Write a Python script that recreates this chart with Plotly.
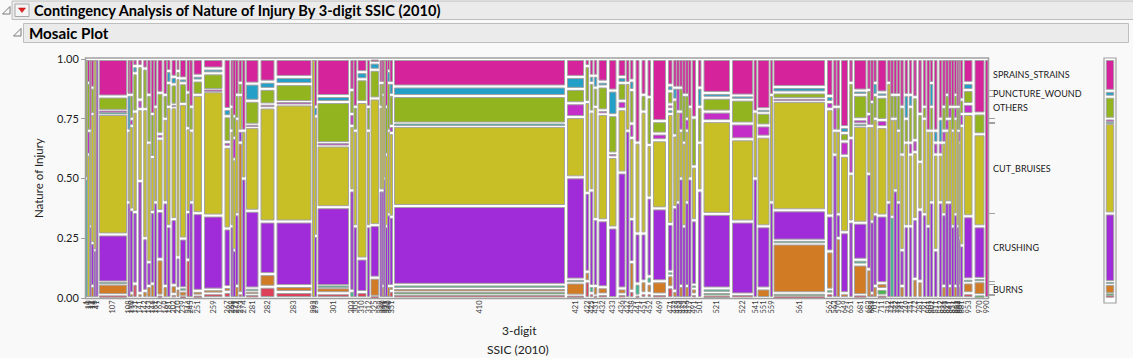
import plotly.graph_objects as go

# ---------------- data ----------------
ssic_codes = ["1", "10", "11", "14", "16", "41", "107", "108", "110", "131",
              "141", "142", "143", "146", "161", "162", "169", "181", "202", "210",
              "239", "244", "245", "251", "259", "267", "268", "271", "272", "273",
              "274", "281", "282", "283", "292", "293", "301", "303", "305", "310",
              "312", "325", "329", "330", "331", "332", "340", "351", "410", "421",
              "422", "425", "431", "432", "433", "436", "437", "438", "441", "451",
              "452", "469", "471", "472", "473", "474", "475", "476", "477", "491",
              "501", "521", "522", "541", "551", "559", "561", "562", "563", "570",
              "649", "651", "681", "682", "683", "701", "711", "712", "721", "722",
              "731", "741", "749", "751", "772", "781", "791", "801", "802", "811",
              "812", "821", "829", "841", "851", "861", "862", "869", "881", "953", "970", "990"]

cases = [15, 20, 15, 30, 20, 20, 300, 20, 25, 50,
         50, 50, 30, 40, 20, 70, 35, 35, 65, 20,
         80, 25, 30, 105, 205, 75, 20, 25, 25, 45,
         25, 145, 160, 370, 20, 20, 335, 40, 25, 110,
         20, 105, 20, 20, 15, 20, 20, 35, 1730, 190,
         45, 40, 40, 105, 95, 90, 25, 55, 60, 60,
         55, 150, 65, 30, 30, 30, 30, 30, 25, 60,
         55, 285, 230, 25, 140, 20, 535, 75, 30, 35,
         90, 40, 145, 30, 30, 30, 110, 30, 30, 35,
         30, 40, 45, 40, 50, 50, 40, 35, 30, 55,
         40, 30, 30, 30, 25, 30, 20, 10, 30, 105, 120, 25]

# percentage of each nature of injury inside each SSIC column
amputation = [0, 0, 0, 0, 0, 0, 1.2, 0, 0, 6,
              0, 0, 0, 0, 0, 1, 0, 0, 1.5, 0,
              0.5, 16, 0, 1, 2, 2.5, 0, 0, 0, 2,
              0, 1.5, 4.7, 2.5, 0, 0, 2, 0, 0, 2.5,
              0, 0.5, 0, 0, 0, 0, 0, 3, 1.5, 1,
              7, 2, 1, 1.5, 0, 1.5, 0, 3, 1, 2,
              2, 1.5, 4.5, 0, 0, 0, 0, 0, 0, 1.5,
              0, 1, 1.5, 0, 0, 0, 0.5, 2, 0, 0,
              0, 0, 1.2, 0, 2, 0, 1, 0, 0, 0,
              0, 0, 0, 0, 0, 0, 0, 0, 0, 0,
              0, 0, 0, 0, 0, 0, 0, 0, 0, 2, 0, 0]
asphyxia = [0, 0, 0, 0, 0, 0, 0, 0, 0, 0,
            0, 0, 0, 0, 0, 0, 0, 0, 0, 0,
            0, 0, 0, 0, 0, 0, 0, 0, 0, 0,
            0, 0, 0, 0, 0, 0, 0, 0, 0, 0,
            0, 0, 0, 0, 0, 0, 0, 0, 1, 0,
            0, 0, 0, 0, 0, 0, 0, 0, 0, 0,
            0, 0, 0, 0, 0, 0, 0, 0, 0, 0,
            0, 1.2, 0, 0, 0, 0, 1.5, 1.5, 0, 0,
            0, 0, 0, 0, 0, 0, 2.8, 0, 0, 0,
            0, 0, 0, 0, 0, 0, 0, 0, 0, 0,
            0, 0, 0, 0, 0, 0, 0, 0, 0, 0, 1.2, 0]
burns = [0, 0, 0, 5, 0, 0, 4.8, 0, 2, 0,
         2, 3, 5, 6, 0, 15, 5, 0, 3.5, 4,
         2.5, 0, 0, 2, 1.5, 2, 0, 0, 5, 63,
         0, 1.2, 5.3, 2.5, 0, 0, 2.5, 0, 0, 0,
         0, 8, 0, 5, 0, 0, 5, 2, 1.5, 5.5,
         4, 0, 4, 3, 0, 2.5, 0, 12, 0, 5,
         4, 5.5, 5, 3, 0, 5, 0, 5, 0, 2.5,
         0, 0, 0, 0, 4, 0, 20.8, 16, 0, 25,
         2, 0, 12.8, 12, 0, 5, 2.4, 0, 0, 0,
         0, 5, 0, 0, 8, 7, 0, 0, 0, 0,
         0, 5, 0, 5, 0, 5, 0, 5, 0, 4.5, 5.8, 0]
concussion = [50, 0, 0, 0, 0, 0, 0.5, 0, 0, 0,
              0, 0, 0, 0, 0, 0, 0, 0, 0, 0,
              1, 0, 0, 0, 0, 0, 0, 0, 0, 0,
              0, 1.3, 0, 0, 0, 0, 0.5, 3, 0, 0,
              0, 0, 0, 0, 0, 0, 0, 0, 1.5, 1.2,
              0, 3, 0, 0, 0, 0, 0, 0, 5, 0,
              3, 0, 1.5, 0, 0, 0, 0, 0, 0, 1.5,
              0, 1.8, 0, 0, 0, 0, 1.2, 0, 0, 0,
              0, 0, 2, 0, 0, 0, 0, 0, 34, 0,
              0, 0, 0, 0, 0, 0, 0, 0, 0, 0,
              0, 0, 0, 0, 0, 0, 0, 0, 0, 1.3, 1, 0]
crushing = [0, 0, 30, 18, 20, 100, 20.1, 40, 35, 30,
            47, 22, 10, 30, 40, 20, 35, 30, 26, 13,
            20.5, 20, 40, 32.5, 31, 24, 30, 20, 30, 5,
            50, 32.5, 22, 27, 0, 26, 33, 42, 30, 14,
            30, 22, 45, 40, 50, 30, 30, 29, 33, 42.8,
            33, 40, 28, 28, 29.5, 48.5, 70, 18, 21, 20,
            33, 30.5, 20, 35, 40, 45, 30, 35, 50, 27,
            45, 31.2, 30.5, 50, 26, 40, 12.7, 15, 60, 10,
            25.5, 32, 15.5, 40, 30, 30, 28.3, 40, 0, 45,
            40, 15, 30, 30, 25, 30, 35, 30, 40, 20,
            40, 30, 40, 35, 30, 30, 30, 20, 22, 26.4, 22, 0]
cut_bruises = [0, 60, 40, 54, 80, 0, 50.4, 30, 35, 42,
               30, 54, 50, 23, 40, 30, 35, 50, 44, 75,
               55.5, 35, 30, 49.5, 52, 33.5, 40, 38, 40, 15,
               20, 35, 47.7, 49, 100, 50, 25.8, 27, 40, 65.5,
               40, 53, 35, 40, 50, 30, 35, 35, 33.5, 25.2,
               38, 33, 47, 44.5, 29.5, 26.5, 20, 34, 38, 51,
               22, 28.5, 46, 30, 38, 20, 35, 30, 30, 22.5,
               20, 38.8, 34.4, 28, 37.5, 45, 45.7, 44.5, 10, 35,
               32, 20, 40.5, 20, 40, 40, 37, 50, 41, 30,
               30, 40, 35, 30, 28, 20, 40, 40, 30, 40,
               20, 30, 30, 35, 40, 40, 40, 40, 50, 42.8, 38.5, 0]
dislocation = [0, 0, 0, 0, 0, 0, 0.6, 0, 0, 0,
               0, 0, 0, 0, 0, 0, 0, 0, 0, 0,
               0, 0, 0, 0, 0, 0, 0, 0, 0, 0,
               0, 0, 0, 0, 0, 0, 0, 0, 0, 0,
               0, 0, 0, 0, 0, 0, 0, 0, 1, 0,
               0, 0, 0, 0, 0, 0, 0, 0, 0, 0,
               0, 0, 2, 0, 0, 0, 0, 0, 0, 0,
               0, 0, 0, 0, 0, 0, 0, 0, 0, 0,
               0, 0, 0.7, 0, 0, 0, 0, 0, 0, 0,
               0, 0, 0, 0, 0, 0, 0, 0, 0, 0,
               0, 0, 0, 0, 0, 0, 0, 0, 0, 0, 0, 0]
fracture = [0, 10, 0, 0, 0, 0, 0.7, 0, 3, 0,
            4, 0, 0, 0, 0, 2, 0, 0, 1, 0,
            0, 0, 0, 0, 0.5, 2, 0, 9, 0, 0,
            0, 1, 1.3, 1, 0, 0, 1, 5, 0, 0,
            0, 0, 0, 0, 0, 0, 0, 3, 0, 5.8,
            0, 0, 0, 1.5, 1.5, 3.5, 0, 6, 0, 0,
            0, 2.8, 2, 0, 10, 8, 0, 5, 0, 0,
            0, 4, 6.6, 0, 4.7, 0, 0.9, 3, 10, 0,
            6, 15, 2.1, 5, 0, 0, 3, 0, 0, 0,
            0, 0, 0, 5, 5, 0, 0, 0, 0, 5,
            5, 5, 5, 5, 0, 5, 0, 5, 5, 4.2, 0, 0]
others = [50, 20, 0, 11, 0, 0, 6, 0, 10, 16,
          14, 17, 20, 18, 0, 17, 10, 10, 8, 3,
          8.5, 15, 10, 6, 7, 10.5, 10, 9, 10, 5,
          0, 10, 6.5, 7.5, 0, 0, 17.2, 10, 10, 9.5,
          10, 12, 10, 5, 0, 20, 20, 13, 11.5, 6,
          15, 12, 8, 10, 16, 7.5, 0, 14, 0, 7,
          20, 5.2, 5.5, 15, 0, 10, 20, 10, 0, 20.5,
          15, 5.8, 10, 0, 5.3, 0, 2.7, 0, 0, 10,
          3.5, 23, 10.2, 10, 10, 10, 9.7, 0, 10, 10,
          15, 20, 10, 15, 18, 20, 5, 0, 10, 0,
          0, 10, 10, 0, 10, 5, 10, 10, 6, 5.8, 8.7, 0]
puncture_wound = [0, 0, 0, 0, 0, 0, 0, 15, 0, 3,
                  0, 0, 0, 0, 0, 0, 0, 5, 3, 0,
                  2, 0, 0, 2, 2, 3, 0, 0, 0, 0,
                  0, 7.2, 3, 3, 0, 4, 2.5, 0, 0, 3,
                  0, 3, 0, 0, 0, 0, 5, 5, 4, 5,
                  0, 3, 5, 2, 10.3, 2.5, 0, 4, 0, 0,
                  0, 0, 2.5, 5, 0, 0, 0, 0, 0, 0,
                  8, 2, 1.7, 0, 1.5, 0, 2.3, 2.5, 0, 0,
                  2.5, 0, 1.8, 0, 0, 5, 1.8, 0, 0, 0,
                  0, 0, 10, 5, 0, 0, 0, 0, 10, 5,
                  10, 0, 0, 0, 0, 0, 0, 0, 0, 3, 0, 0]
sprains_strains = [0, 10, 30, 12, 0, 0, 15.7, 15, 15, 3,
                   3, 4, 15, 23, 20, 14, 15, 5, 7, 5,
                   8, 14, 20, 7, 4, 20.5, 20, 24, 15, 10,
                   30, 10.3, 9.5, 7.5, 0, 20, 15.5, 13, 20, 5.5,
                   20, 1.5, 10, 10, 0, 20, 5, 10, 11.5, 7.5,
                   3, 7, 7, 9.5, 13.2, 7.5, 10, 9, 35, 15,
                   16, 26, 11, 12, 12, 12, 15, 15, 20, 24.5,
                   12, 14.2, 15.3, 22, 21, 15, 11.7, 15.5, 20, 20,
                   28.5, 10, 13.2, 13, 18, 10, 14, 10, 15, 15,
                   15, 20, 15, 15, 16, 23, 20, 30, 10, 30,
                   25, 20, 15, 20, 20, 15, 20, 20, 17, 10, 22.8, 100]

levels = ["AMPUTATION", "ASPHYXIA", "BURNS", "CONCUSSION", "CRUSHING", "CUT_BRUISES",
          "DISLOCATION", "FRACTURE", "OTHERS", "PUNCTURE_WOUND", "SPRAINS_STRAINS"]
level_values = [amputation, asphyxia, burns, concussion, crushing, cut_bruises,
                dislocation, fracture, others, puncture_wound, sprains_strains]
level_colors = ["#DC4159", "#44B649", "#D17B25", "#2DBB8C", "#A02BD8", "#C8BF27",
                "#27B0A8", "#C52DC8", "#92B51F", "#239FC8", "#D4239B"]
labeled_levels = ["BURNS", "CRUSHING", "CUT_BRUISES", "OTHERS", "PUNCTURE_WOUND", "SPRAINS_STRAINS"]
y_tick_values = [0, 0.25, 0.5, 0.75, 1.0]

# ---------------- geometry helpers ----------------
W, H = 1133, 358
L, R, T, B = 86, 1118, 59, 298          # plot area in pixels
MAIN_RIGHT = 988
PW, PH = R - L, B - T
EDGE = "#A4A4A4"
FONT = "Lato"


def px(x):
    return (x - L) / PW


def py(y):
    return (B - y) / PH


n = len(ssic_codes)
total = sum(cases)
units_per_px = total / (MAIN_RIGHT - L)
gap_y = 3.0 / PH
min_h = 1.4 / PH

col_sum = [sum(v[j] for v in level_values) for j in range(n)]
shares = [[v[j] / col_sum[j] for j in range(n)] for v in level_values]

lefts, acc = [], 0
for c in cases:
    lefts.append(acc)
    acc += c
centers = [lefts[j] + cases[j] / 2 for j in range(n)]
# white gap between columns shrinks for very narrow columns (they merge into grey)
bar_widths = []
for c in cases:
    wpx = c / units_per_px
    gpx = min(3.0, max(0.0, wpx - 2.5))
    bar_widths.append(max(wpx - gpx, 1.2) * units_per_px)

fig = go.Figure()

cum = [0.0] * n
for k, lev in enumerate(levels):
    xs, ys, bs, ws = [], [], [], []
    for j in range(n):
        p = shares[k][j]
        if p > 0:
            h = max(p - gap_y, min_h)
            xs.append(centers[j])
            ws.append(bar_widths[j])
            bs.append(cum[j] + (p - h) / 2)
            ys.append(h)
        cum[j] += p
    fig.add_trace(go.Bar(x=xs, y=ys, base=bs, width=ws, name=lev,
                         marker=dict(color=level_colors[k], line=dict(color=EDGE, width=1)),
                         xaxis="x", yaxis="y", hoverinfo="skip", showlegend=False))

# overall distribution bar on the right
overall = [sum(shares[k][j] * cases[j] for j in range(n)) / total for k in range(len(levels))]
c0 = 0.0
bounds = []
mids = {}
for k, lev in enumerate(levels):
    p = overall[k]
    h = max(p - gap_y, min_h)
    fig.add_trace(go.Bar(x=[0.5], y=[h], base=[c0 + (p - h) / 2], width=[0.62],
                         marker=dict(color=level_colors[k], line=dict(color=EDGE, width=1)),
                         xaxis="x2", yaxis="y", hoverinfo="skip", showlegend=False))
    mids[lev] = c0 + p / 2
    c0 += p
    bounds.append(c0)
bounds = bounds[:-1]

# dummy trace to show right tick marks
fig.add_trace(go.Scatter(x=[centers[0]], y=[0.5], xaxis="x", yaxis="y2", mode="markers",
                         marker=dict(opacity=0), hoverinfo="skip", showlegend=False))

shapes = []
shapes.append(dict(type="rect", xref="paper", yref="paper", x0=px(L), x1=px(MAIN_RIGHT),
                   y0=py(B), y1=py(58), fillcolor="white", line=dict(width=0), layer="below"))
shapes.append(dict(type="rect", xref="paper", yref="paper", x0=px(L - 0.5), x1=px(MAIN_RIGHT + 0.5),
                   y0=py(B + 0.5), y1=py(58), line=dict(color="#A0A0A0", width=1.5), layer="below"))
shapes.append(dict(type="rect", xref="paper", yref="paper", x0=px(1104), x1=px(1116),
                   y0=py(303), y1=py(58), fillcolor="white", line=dict(color="#A0A0A0", width=1.2),
                   layer="below"))
shapes.append(dict(type="rect", xref="paper", yref="paper", x0=px(12), x1=px(1134),
                   y0=py(19.5), y1=py(1), fillcolor="#EBEBEB", line=dict(color="#BEBEBE", width=1)))
shapes.append(dict(type="rect", xref="paper", yref="paper", x0=px(23.5), x1=px(1128.5),
                   y0=py(42.5), y1=py(23.5), fillcolor="#EBEBEB", line=dict(color="#BEBEBE", width=1)))
shapes.append(dict(type="rect", xref="paper", yref="paper", x0=px(15), x1=px(29),
                   y0=py(16.5), y1=py(4), fillcolor="#F5F5F5", line=dict(color="#A8A8A8", width=1)))


def tri(points):
    return "M " + " L ".join(f"{px(a):.5f},{py(b):.5f}" for a, b in points) + " Z"


shapes.append(dict(type="path", xref="paper", yref="paper", path=tri([(18.5, 8), (25.5, 8), (22, 12.5)]),
                   fillcolor="#E0201E", line=dict(color="#C01010", width=0.5)))
shapes.append(dict(type="path", xref="paper", yref="paper", path=tri([(2.5, 14), (10, 14), (10, 6.5)]),
                   fillcolor="rgba(0,0,0,0)", line=dict(color="#7A7A7A", width=1)))
shapes.append(dict(type="path", xref="paper", yref="paper", path=tri([(13.5, 36), (21, 36), (21, 28.5)]),
                   fillcolor="rgba(0,0,0,0)", line=dict(color="#7A7A7A", width=1)))

annotations = []
annotations.append(dict(text="Contingency Analysis of Nature of Injury By 3-digit SSIC (2010)",
                        xref="paper", yref="paper", x=px(32), y=py(10.5), xanchor="left", yanchor="middle",
                        showarrow=False, font=dict(family=FONT, size=14.6, color="black", weight="bold")))
annotations.append(dict(text="Mosaic Plot", xref="paper", yref="paper", x=px(26.5), y=py(33),
                        xanchor="left", yanchor="middle", showarrow=False,
                        font=dict(family=FONT, size=15.2, color="black", weight="bold")))
annotations.append(dict(text="Nature of Injury", xref="paper", yref="paper", x=px(38), y=py(178),
                        xanchor="center", yanchor="middle", textangle=-90, showarrow=False,
                        font=dict(family=FONT, size=11.5, color="#222222")))
annotations.append(dict(text="3-digit", xref="paper", yref="paper", x=px(519), y=py(330),
                        xanchor="center", yanchor="middle", showarrow=False,
                        font=dict(family=FONT, size=12, color="#222222")))
annotations.append(dict(text="SSIC (2010)", xref="paper", yref="paper", x=px(518), y=py(349),
                        xanchor="center", yanchor="middle", showarrow=False,
                        font=dict(family=FONT, size=12, color="#222222")))
for lev in labeled_levels:
    annotations.append(dict(text=lev, xref="paper", yref="y", x=px(991), y=mids[lev],
                            xanchor="left", yanchor="middle", showarrow=False,
                            font=dict(family=FONT, size=9, color="#1A1A1A")))

main_frac = px(MAIN_RIGHT)
fig.update_layout(
    width=W, height=H, autosize=False,
    margin=dict(l=L, r=W - R, t=T, b=H - B, pad=0),
    paper_bgcolor="#F9F9F9", plot_bgcolor="#F9F9F9",
    barmode="overlay", showlegend=False,
    shapes=shapes, annotations=annotations,
    font=dict(family=FONT),
    xaxis=dict(domain=[0, main_frac], range=[0, total], tickmode="array", tickvals=centers,
               ticktext=ssic_codes, tickangle=-90, tickfont=dict(family=FONT, size=7.5, color="#404040"),
               ticks="", showgrid=False, zeroline=False, showline=False, fixedrange=True),
    xaxis2=dict(domain=[px(1104), px(1116)], range=[0, 1], anchor="y", showticklabels=False,
                ticks="", showgrid=False, zeroline=False, showline=False),
    yaxis=dict(range=[0, 1], tickmode="array", tickvals=y_tick_values,
               ticktext=[f"{v:.2f}" for v in y_tick_values], ticks="outside", ticklen=4,
               tickcolor="#A0A0A0", tickfont=dict(family=FONT, size=11, color="#1A1A1A"),
               showgrid=False, zeroline=False, showline=False, anchor="x"),
    yaxis2=dict(range=[0, 1], overlaying="y", side="right", anchor="x", tickmode="array",
                tickvals=bounds, ticks="outside", ticklen=6, tickcolor="#A0A0A0",
                showticklabels=False, showgrid=False, zeroline=False, showline=False),
)

fig.write_html("out.html", config={"displayModeBar": False},
               post_script="document.body.style.margin='0px';document.body.style.background='#F9F9F9';")
